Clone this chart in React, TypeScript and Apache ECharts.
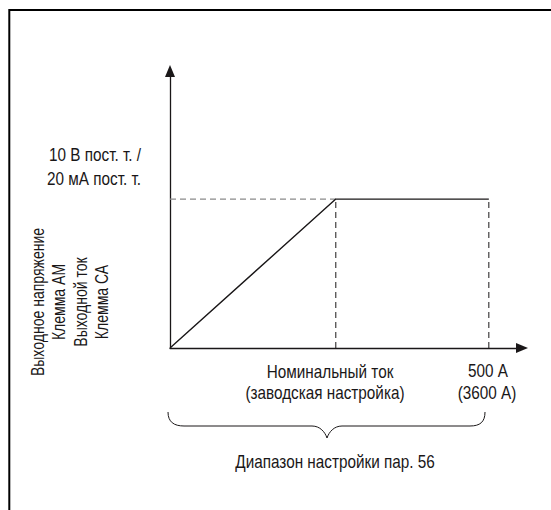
import React, { useEffect, useRef } from "react";
import * as echarts from "echarts";

// Schematic characteristic: output vs. current
const curveX = [0, 260, 500]; // 0, rated current (factory setting), 500 A
const curveY = [0, 10, 10]; // output (10 V / 20 mA at plateau)
const ratedX = 260;
const fullX = 500;
const plateauY = 10;
const xMax = 552;
const yMax = 18.6;

const yLabelLines = ["10 В пост. т. /", "20 мА пост. т."];
const yTitleLines = ["Выходное напряжение", "Клемма АМ", "Выходной ток", "Клемма СА"];
const ratedLabel = ["Номинальный ток", "(заводская настройка)"];
const fullLabel = ["500 А", "(3600 А)"];
const rangeLabel = "Диапазон настройки пар. 56";

const FONT = "'Liberation Sans', Arial, sans-serif";
const INK = "#1a1718";
const SX = 0.85;

export default function App() {
  const ref = useRef<HTMLDivElement>(null);
  useEffect(() => {
    if (!ref.current) return;
    const d =
      "M168,412 C168,422 174,426 184,426 L312,426 C320,426 325,432 327,438 C329,432 334,426 342,426 L470,426 C480,426 485,422 485,412";
    echarts.graphic.registerShape("brace", echarts.graphic.extendPath(d, {}) as any);
    const chart = echarts.init(ref.current, null, { renderer: "svg" });

    const txt = (
      text: string,
      x: number,
      y: number,
      align: string,
      sx = SX,
      extra: any = {}
    ) => ({
      type: "text",
      x,
      y,
      scaleX: sx,
      style: {
        text,
        fill: INK,
        font: `18px ${FONT}`,
        align,
        verticalAlign: "middle",
      },
      ...extra,
    });

    const axisCommon = {
      axisLabel: { show: false },
      axisTick: { show: false },
      splitLine: { show: false },
      axisLine: {
        show: true,
        symbol: ["none", "triangle"],
        symbolSize: [10, 12],
        lineStyle: { color: INK, width: 1.3 },
      },
    };

    chart.setOption({
      animation: false,
      backgroundColor: "#fff",
      grid: { left: 170, right: 29, top: 71, bottom: 162 },
      xAxis: { type: "value", min: 0, max: xMax, ...axisCommon },
      yAxis: { type: "value", min: 0, max: yMax, ...axisCommon },
      series: [
        {
          type: "line",
          data: [
            [0, plateauY],
            [ratedX, plateauY],
          ],
          symbol: "none",
          lineStyle: { color: "#8a8a8a", width: 1.2, type: [6, 4] },
          z: 2,
        },
        {
          type: "line",
          data: [
            [ratedX, 0],
            [ratedX, plateauY],
          ],
          symbol: "none",
          lineStyle: { color: INK, width: 1, type: [6, 4] },
          z: 2,
        },
        {
          type: "line",
          data: [
            [fullX, 0],
            [fullX, plateauY],
          ],
          symbol: "none",
          lineStyle: { color: INK, width: 1, type: [6, 4] },
          z: 2,
        },
        {
          type: "line",
          data: curveX.map((x, i) => [x, curveY[i]]),
          symbol: "none",
          lineStyle: { color: INK, width: 1.4 },
          z: 3,
        },
      ],
      graphic: [
        {
          type: "rect",
          shape: { x: 9.3, y: 10, width: 700, height: 700 },
          style: { fill: "none", stroke: "#000", lineWidth: 2 },
          silent: true,
        },
        txt(yLabelLines[0], 141, 155, "right"),
        txt(yLabelLines[1], 141, 179, "right"),
        ...yTitleLines.map((t, i) =>
          txt(t, 37 + i * 21.5, 302, "center", 0.78, { rotation: Math.PI / 2 })
        ),
        txt(ratedLabel[0], 330, 372, "center"),
        txt(ratedLabel[1], 325, 393, "center"),
        txt(fullLabel[0], 488, 371, "center"),
        txt(fullLabel[1], 487, 393, "center"),
        {
          type: "brace",
          x: 0,
          y: 0,
          style: { fill: "none", stroke: INK, lineWidth: 1 },
        },
        txt(rangeLabel, 335, 462, "center"),
      ],
    });
    return () => chart.dispose();
  }, []);
  return (
    <div
      ref={ref}
      style={{ position: "fixed", left: 0, top: 0, width: 551, height: 510 }}
    />
  );
}
